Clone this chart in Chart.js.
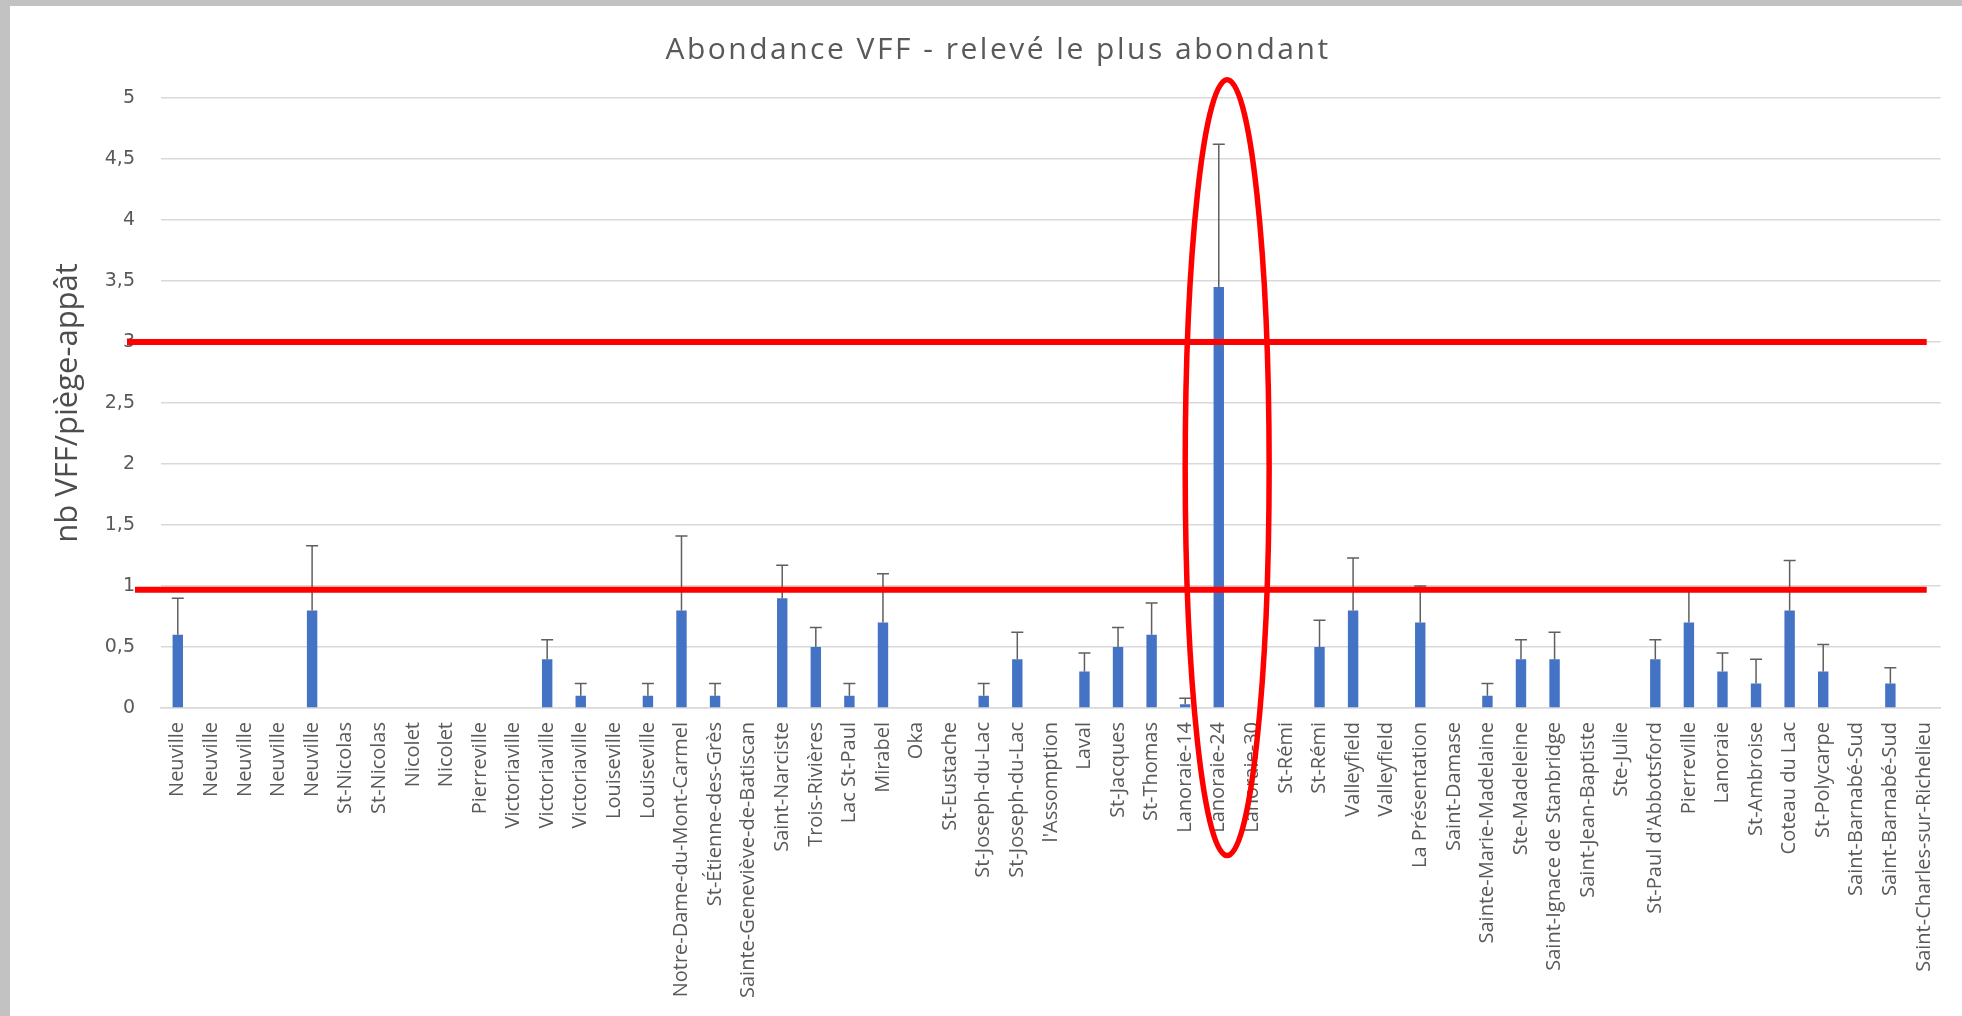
<!DOCTYPE html>
<html lang="fr">
<head>
<meta charset="utf-8">
<title>Abondance VFF</title>
<script src="https://cdn.jsdelivr.net/npm/chart.js@4.4.1/dist/chart.umd.min.js"></script>
<style>
  html, body { margin: 0; padding: 0; background: #c2c2c2; }
  #cadre { position: absolute; left: 10px; top: 6px; width: 1952px; height: 1010px; background: #fff; }
</style>
</head>
<body>
<div id="cadre"><canvas id="graphique" width="1952" height="1010"></canvas></div>
<script>
// Données
const sites = [
  "Neuville", "Neuville", "Neuville", "Neuville", "Neuville",
  "St-Nicolas", "St-Nicolas", "Nicolet", "Nicolet", "Pierreville",
  "Victoriaville", "Victoriaville", "Victoriaville", "Louiseville", "Louiseville",
  "Notre-Dame-du-Mont-Carmel", "St-Étienne-des-Grès", "Sainte-Geneviève-de-Batiscan",
  "Saint-Narciste", "Trois-Rivières", "Lac St-Paul", "Mirabel", "Oka", "St-Eustache",
  "St-Joseph-du-Lac", "St-Joseph-du-Lac", "l'Assomption", "Laval", "St-Jacques", "St-Thomas",
  "Lanoraie-14", "Lanoraie-24", "Lanoraie-30", "St-Rémi", "St-Rémi", "Valleyfield", "Valleyfield",
  "La Présentation", "Saint-Damase", "Sainte-Marie-Madelaine", "Ste-Madeleine",
  "Saint-Ignace de Stanbridge", "Saint-Jean-Baptiste", "Ste-Julie", "St-Paul d'Abbotsford",
  "Pierreville", "Lanoraie", "St-Ambroise", "Coteau du Lac", "St-Polycarpe",
  "Saint-Barnabé-Sud", "Saint-Barnabé-Sud", "Saint-Charles-sur-Richelieu"
];

const moyennes = [
  0.6, 0, 0, 0, 0.8,
  0, 0, 0, 0, 0,
  0, 0.4, 0.1, 0, 0.1,
  0.8, 0.1, 0,
  0.9, 0.5, 0.1, 0.7, 0, 0,
  0.1, 0.4, 0, 0.3, 0.5, 0.6,
  0.03, 3.45, 0, 0, 0.5, 0.8, 0,
  0.7, 0, 0.1, 0.4,
  0.4, 0, 0, 0.4,
  0.7, 0.3, 0.2, 0.8, 0.3,
  0, 0.2, 0
];

// erreur type (barre vers le haut seulement)
const erreurs = [
  0.3, 0, 0, 0, 0.53,
  0, 0, 0, 0, 0,
  0, 0.16, 0.1, 0, 0.1,
  0.61, 0.1, 0,
  0.27, 0.16, 0.1, 0.4, 0, 0,
  0.1, 0.22, 0, 0.15, 0.16, 0.26,
  0.05, 1.17, 0, 0, 0.22, 0.43, 0,
  0.3, 0, 0.1, 0.16,
  0.22, 0, 0, 0.16,
  0.28, 0.15, 0.2, 0.41, 0.22,
  0, 0.13, 0
];

const valeursY = [0, 0.5, 1, 1.5, 2, 2.5, 3, 3.5, 4, 4.5, 5];
const etiquettesY = ["0", "0,5", "1", "1,5", "2", "2,5", "3", "3,5", "4", "4,5", "5"];

// seuils tracés en rouge
const seuils = [3, 0.97];

// Barres d'erreur dessinées avec l'échelle Y
const barresErreur = {
  id: "barresErreur",
  afterDatasetsDraw(chart) {
    const ctx = chart.ctx;
    const y = chart.scales.y;
    const meta = chart.getDatasetMeta(0);
    ctx.save();
    ctx.strokeStyle = "#5f5f5f";
    ctx.lineWidth = 1.5;
    meta.data.forEach((barre, i) => {
      const e = erreurs[i];
      if (!e) return;
      const yBas = y.getPixelForValue(moyennes[i]);
      const yHaut = y.getPixelForValue(moyennes[i] + e);
      ctx.beginPath();
      ctx.moveTo(barre.x, yBas);
      ctx.lineTo(barre.x, yHaut);
      ctx.moveTo(barre.x - 6, yHaut);
      ctx.lineTo(barre.x + 6, yHaut);
      ctx.stroke();
    });
    ctx.restore();
  }
};

// Lignes rouges et ellipse autour de Lanoraie-24
const annotations = {
  id: "annotations",
  afterDraw(chart) {
    const ctx = chart.ctx;
    const { x, y } = chart.scales;
    const zone = chart.chartArea;
    ctx.save();
    ctx.strokeStyle = "#ff0000";
    ctx.lineWidth = 6;
    const debuts = [zone.left - 34, zone.left - 26];
    seuils.forEach((s, i) => {
      const py = y.getPixelForValue(s);
      ctx.beginPath();
      ctx.moveTo(debuts[i], py);
      ctx.lineTo(zone.right - 14, py);
      ctx.stroke();
    });
    const idx = sites.indexOf("Lanoraie-24") + 0.25;
    const cx = x.getPixelForValue(idx);
    const rx = x.getPixelForValue(idx + 1.25) - cx;
    const cy = y.getPixelForValue(1.97);
    const ry = cy - y.getPixelForValue(5.15);
    ctx.lineWidth = 5.5;
    ctx.beginPath();
    ctx.ellipse(cx, cy, rx, ry, 0, 0, Math.PI * 2);
    ctx.stroke();
    ctx.restore();
  }
};

// Titre avec un léger espacement des lettres
const titre = {
  id: "titre",
  afterDraw(chart) {
    const ctx = chart.ctx;
    ctx.save();
    ctx.font = "30px 'Open Sans'";
    ctx.fillStyle = "#595959";
    ctx.textAlign = "center";
    ctx.textBaseline = "alphabetic";
    ctx.letterSpacing = "2.5px";
    ctx.fillText("Abondance VFF - relevé le plus abondant", chart.width / 2 + 12, 53);
    ctx.restore();
  }
};

const config = {
  type: "bar",
  data: {
    labels: sites,
    datasets: [{
      data: moyennes,
      backgroundColor: "#4472c4",
      borderWidth: 0,
      barPercentage: 0.31,
      categoryPercentage: 1
    }]
  },
  options: {
    responsive: false,
    animation: false,
    devicePixelRatio: 1,
    layout: { padding: { top: 92, right: 5, left: 0, bottom: 0 } },
    plugins: {
      legend: { display: false },
      title: { display: false },
      tooltip: { enabled: false }
    },
    scales: {
      x: {
        grid: { display: false, drawTicks: false },
        border: { display: true, color: "#d9d9d9", width: 1.5 },
        ticks: {
          autoSkip: false,
          minRotation: 90,
          maxRotation: 90,
          padding: 14,
          color: "#595959",
          font: { family: "'Open Sans'", size: 20 }
        },
        afterFit(scale) { scale.height = 308; }
      },
      y: {
        min: 0,
        max: 5,
        grid: { color: "#d9d9d9", lineWidth: 1.5, drawTicks: false },
        border: { display: false },
        ticks: {
          stepSize: 0.5,
          padding: 26,
          color: "#595959",
          font: { family: "'DejaVu Sans'", size: 19 },
          callback: (v) => {
            const k = valeursY.indexOf(v);
            return k >= 0 ? etiquettesY[k] : "";
          }
        },
        title: {
          display: true,
          text: "nb VFF/piège-appât",
          color: "#4d4d4d",
          padding: { top: 40, bottom: 0 },
          font: { family: "'Open Sans'", size: 31, lineHeight: 1.2 }
        },
        afterFit(scale) { scale.width = 151; }
      }
    }
  },
  plugins: [barresErreur, annotations, titre]
};

new Chart(document.getElementById("graphique"), config);
</script>
</body>
</html>
